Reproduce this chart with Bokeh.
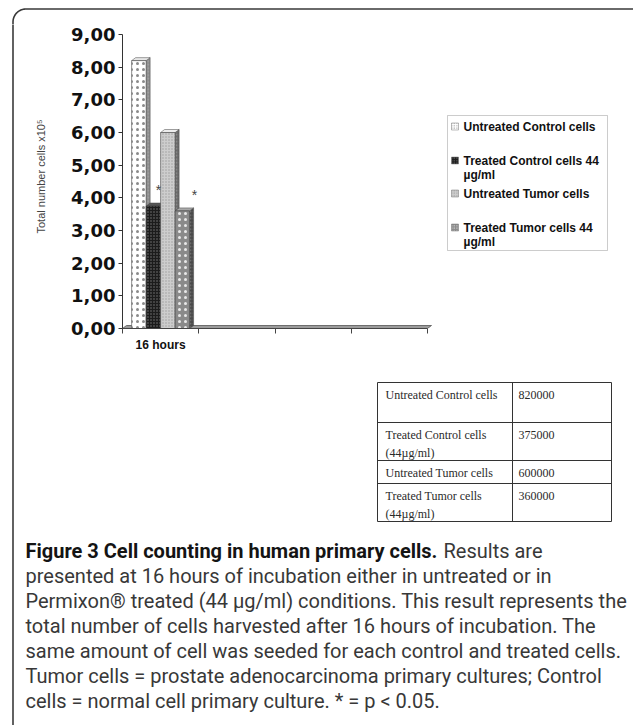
import numpy as np
from bokeh.plotting import figure
from bokeh.layouts import column, row
from bokeh.models import Range1d, LinearAxis, FixedTicker, BoxAnnotation, Label, ColumnDataSource
from bokeh.core.properties import value
from bokeh.embed import file_html
from bokeh.resources import INLINE

# ---------------- data ----------------
categories = ["16 hours", "", "", ""]
series_names = ["Untreated Control cells", "Treated Control cells 44 µg/ml",
                "Untreated Tumor cells", "Treated Tumor cells 44 µg/ml"]
legend_lines = [["Untreated Control cells"], ["Treated Control cells 44", "µg/ml"],
                ["Untreated Tumor cells"], ["Treated Tumor cells 44", "µg/ml"]]
cells_16h = [820000, 375000, 600000, 360000]
significant = [False, True, False, True]
y_ticks = [0, 1, 2, 3, 4, 5, 6, 7, 8, 9]
y_tick_labels = ["0,00", "1,00", "2,00", "3,00", "4,00", "5,00", "6,00", "7,00", "8,00", "9,00"]
y_title = "Total number cells x10\u2075"
table_rows = [["Untreated Control cells"], ["Treated Control cells", "(44µg/ml)"],
              ["Untreated Tumor cells"], ["Treated Tumor cells", "(44µg/ml)"]]
table_values = ["820000", "375000", "600000", "360000"]
caption_bold = "Figure 3 Cell counting in human primary cells."
caption_first = "Results are"
caption_lines = [
    "presented at 16 hours of incubation either in untreated or in",
    "Permixon\u00ae treated (44 µg/ml) conditions. This result represents the",
    "total number of cells harvested after 16 hours of incubation. The",
    "same amount of cell was seeded for each control and treated cells.",
    "Tumor cells = prostate adenocarcinoma primary cultures; Control",
    "cells = normal cell primary culture. * = p < 0.05.",
]

values = [c / 1e5 for c in cells_16h]

# ---------------- styles ----------------
front_fill = ["#ffffff", "#1c1c1c", "#cdcdcd", "#8a8a8a"]
front_hatch = ["#8a8a8a", "#7a7a7a", "#9c9c9c", "#e8e8e8"]
hatch_scale = [6.0, 3.0, 3.0, 6.0]
side_fill = ["#8e8e8e", "#0e0e0e", "#6a6a6a", "#4a4a4a"]
top_fill = ["#e6e6e6", "#555555", "#ededed", "#a8a8a8"]
BORDER = "#3a3a3a"

# ---------------- page layout (page pixel coordinates) ----------------
PW, PH = 633, 725
TOP_H = 24                 # top strip
LEFT_W = 20                # left strip
MID_H = 336                # chart band height (page y 24..360)
BOT_H = PH - TOP_H - MID_H
AX_X, AX_Y = 122, 328      # page position of the chart origin
PXX = 76.25                # px per category
PXY = 294 / 9              # px per y unit


def pixel_fig(w, h, x0, y0):
    f = figure(width=w, height=h, x_range=Range1d(x0, x0 + w), y_range=Range1d(y0 + h, y0),
               x_axis_type=None, y_axis_type=None, output_backend="svg",
               toolbar_location=None, min_border=0)
    f.frame_align = False
    f.outline_line_color = None
    f.background_fill_color = "white"
    f.border_fill_color = "white"
    return f


# rounded outer frame (its right/bottom sides lie outside the page)
bx, by, br = 12.5, 8.5, 13
ang = np.linspace(np.pi, 1.5 * np.pi, 24)
border_x = [bx] + list(bx + br + br * np.cos(ang)) + [PW + 50]
border_y = [PH + 50] + list(by + br + br * np.sin(ang)) + [by]

top = pixel_fig(PW, TOP_H, 0, 0)
left = pixel_fig(LEFT_W, PH - TOP_H, 0, TOP_H)
bottom = pixel_fig(PW - LEFT_W, BOT_H, LEFT_W, TOP_H + MID_H)
for f in (top, left, bottom):
    f.line(border_x, border_y, line_color=BORDER, line_width=1.6)

# ---------------- chart ----------------
CH_W = PW - LEFT_W
FL = AX_X - LEFT_W
FB = AX_Y - TOP_H
chart = figure(width=CH_W, height=MID_H, x_range=Range1d(0, (CH_W - FL) / PXX),
               y_range=Range1d(0, FB / PXY), x_axis_type=None, y_axis_type=None,
               output_backend="svg", toolbar_location=None,
               min_border=0, min_border_left=FL, min_border_bottom=MID_H - FB,
               min_border_top=0, min_border_right=0)
chart.frame_align = False
chart.outline_line_color = None
chart.background_fill_color = "white"
chart.border_fill_color = "white"


def X(px):
    return (px - AX_X) / PXX


def Y(py):
    return (AX_Y - py) / PXY


yaxis = LinearAxis(ticker=FixedTicker(ticks=y_ticks),
                   major_label_overrides={float(t): s for t, s in zip(y_ticks, y_tick_labels)},
                   bounds=(y_ticks[0], y_ticks[-1]), axis_label=y_title)
yaxis.axis_line_color = "#333333"
yaxis.major_tick_line_color = "#333333"
yaxis.major_tick_out = 4
yaxis.major_tick_in = 0
yaxis.minor_tick_line_color = None
yaxis.major_label_standoff = 3
yaxis.major_label_text_font = "DejaVu Sans"
yaxis.major_label_text_font_style = "bold"
yaxis.major_label_text_font_size = "18px"
yaxis.major_label_text_color = "#111111"
yaxis.axis_label_text_font = "Liberation Sans"
yaxis.axis_label_text_font_style = "normal"
yaxis.axis_label_text_font_size = "11px"
yaxis.axis_label_text_color = "#444444"
yaxis.axis_label_standoff = 21
chart.add_layout(yaxis, "left")

ncat = len(categories)
xaxis = LinearAxis(ticker=FixedTicker(ticks=[i + 0.5 for i in range(ncat)],
                                      minor_ticks=list(range(ncat + 1))),
                   major_label_overrides={i + 0.5: c for i, c in enumerate(categories)},
                   bounds=(0, ncat))
xaxis.axis_line_color = "#444444"
xaxis.major_tick_out = 0
xaxis.major_tick_in = 0
xaxis.minor_tick_out = 5
xaxis.minor_tick_in = 0
xaxis.minor_tick_line_color = "#444444"
xaxis.major_label_standoff = 4
xaxis.major_label_text_font = "Liberation Sans"
xaxis.major_label_text_font_style = "bold"
xaxis.major_label_text_font_size = "12px"
xaxis.major_label_text_color = "#111111"
chart.add_layout(xaxis, "below")

# 3D floor
ddx = 4 / PXX
ddy = 3 / PXY
chart.patch([0, ncat, ncat + ddx, ddx], [0, 0, ddy, ddy], fill_color="#9c9c9c",
            line_color="#555555", line_width=0.8)

# bars (3D look)
bw = 0.19
centers = [0.5 + (i - 1.5) * bw for i in range(len(values))]
lefts = [c - bw / 2 for c in centers]
rights = [c + bw / 2 for c in centers]

side_xs = [[r, r + ddx, r + ddx, r] for r in rights]
side_ys = [[0, ddy, v + ddy, v] for v in values]
chart.patches(side_xs, side_ys, fill_color=side_fill, line_color="#444444", line_width=0.5,
              hatch_pattern="dot", hatch_color="#b0b0b0", hatch_scale=3.5, hatch_alpha=0.6)
top_xs = [[l, l + ddx, r + ddx, r] for l, r in zip(lefts, rights)]
top_ys = [[v, v + ddy, v + ddy, v] for v in values]
chart.patches(top_xs, top_ys, fill_color=top_fill, line_color="#444444", line_width=0.5)

src = ColumnDataSource(dict(left=lefts, right=rights, top=values, bottom=[0] * len(values),
                            fill=front_fill, hc=front_hatch, hs=hatch_scale))
chart.quad(left="left", right="right", top="top", bottom="bottom", source=src,
           fill_color="fill", line_color="#444444", line_width=0.6,
           hatch_pattern="dot", hatch_color="hc", hatch_scale="hs", hatch_weight=1)

# significance asterisks
star_x = [c for c, s in zip(centers, significant) if s]
star_y = [v for v, s in zip(values, significant) if s]
star_src = ColumnDataSource(dict(x=star_x, y=star_y, xo=[5, 12][:len(star_x)]))
chart.text(x="x", y="y", text=value("*"), source=star_src, x_offset="xo", y_offset=-16,
           text_font=value("Liberation Sans"), text_font_size="14px", text_color="#444444",
           text_align="center", text_baseline="middle")

# legend (custom box, drawn under its markers)
chart.add_layout(BoxAnnotation(left=X(447), right=X(607), top=Y(115), bottom=Y(250),
                               fill_color=None, line_color="#555555", line_width=1))
legend_y = [126, 160, 193, 227]
mk_src = ColumnDataSource(dict(left=[X(451)] * 4, right=[X(458)] * 4,
                               top=[Y(y - 3.5) for y in legend_y],
                               bottom=[Y(y + 3.5) for y in legend_y],
                               fill=front_fill, hc=front_hatch))
chart.quad(left="left", right="right", top="top", bottom="bottom", source=mk_src,
           fill_color="fill", line_color="#777777", line_width=0.5,
           hatch_pattern="dot", hatch_color="hc", hatch_scale=2.5)
for ly, lines in zip(legend_y, legend_lines):
    for k, t in enumerate(lines):
        chart.add_layout(Label(x=X(463), y=Y(ly + k * 14.5), text=t, text_font="Liberation Sans",
                               text_font_style="bold", text_font_size="12px",
                               text_color="#111111", text_baseline="middle"))

# ---------------- table (bottom panel, page coordinates) ----------------
row_bounds = [382, 422, 460, 483, 521]
tx0, tx1, tx2 = 377, 512, 611
for yb in row_bounds:
    bottom.line([tx0, tx2], [yb, yb], line_color="#333333", line_width=1)
for xb in (tx0, tx1, tx2):
    bottom.line([xb, xb], [row_bounds[0], row_bounds[-1]], line_color="#333333", line_width=1)
for a, lines, val in zip(row_bounds[:-1], table_rows, table_values):
    for k, t in enumerate(lines):
        bottom.add_layout(Label(x=385, y=a + 12 + k * 18, text=t, text_font="Liberation Serif",
                                text_font_size="12px", text_color="#2a2a2a",
                                text_baseline="middle"))
    bottom.add_layout(Label(x=518, y=a + 12, text=val, text_font="Liberation Serif",
                            text_font_size="12px", text_color="#2a2a2a", text_baseline="middle"))

# ---------------- caption ----------------
cap_x, cap_y0, cap_dy = 25, 550, 25
bottom.add_layout(Label(x=cap_x, y=cap_y0, text=caption_bold, text_font="Roboto",
                        text_font_style="bold", text_font_size="20px", text_color="#141414",
                        text_baseline="middle"))
bottom.add_layout(Label(x=443, y=cap_y0, text=caption_first, text_font="Roboto",
                        text_font_size="20px", text_color="#383838", text_baseline="middle"))
for k, t in enumerate(caption_lines):
    bottom.add_layout(Label(x=cap_x, y=cap_y0 + (k + 1) * cap_dy, text=t, text_font="Roboto",
                            text_font_size="20px", text_color="#383838",
                            text_baseline="middle"))

layout = column(top, row(left, column(chart, bottom, spacing=0), spacing=0), spacing=0)
open("out.html", "w").write(file_html(layout, INLINE))
